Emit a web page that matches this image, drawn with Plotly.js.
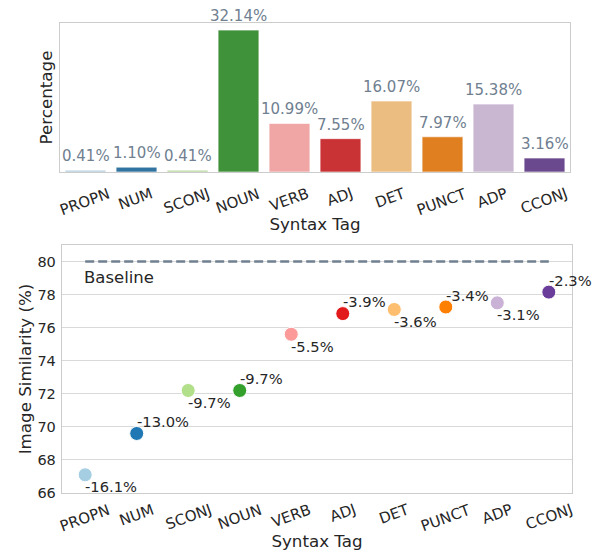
<!DOCTYPE html>
<html><head><meta charset="utf-8">
<script src="https://cdn.plot.ly/plotly-3.0.1.min.js"></script>
<style>html,body{margin:0;padding:0;background:#fff}</style>
</head><body><div id="chart" style="width:597px;height:554px"></div>
<script>
const tags = ['PROPN','NUM','SCONJ','NOUN','VERB','ADJ','DET','PUNCT','ADP','CCONJ'];
const percentages = [0.41, 1.10, 0.41, 32.14, 10.99, 7.55, 16.07, 7.97, 15.38, 3.16];
const similarity = [67.1, 69.6, 72.2, 72.2, 75.6, 76.85, 77.1, 77.25, 77.5, 78.15];
const dropLabels = ['-16.1%','-13.0%','-9.7%','-9.7%','-5.5%','-3.9%','-3.6%','-3.4%','-3.1%','-2.3%'];
const baseline = 80;
const yTicks = [66, 68, 70, 72, 74, 76, 78, 80];

const barColors = ['#aeccdb','#3274a1','#b3d495','#40923a','#efa6a5','#ca3335','#ebbd81','#df7f20','#c9b7d2','#6a498e'];
const pointColors = ['#a6cee3','#1f78b4','#b2df8a','#33a02c','#fb9a99','#e31a1c','#fdbf6f','#ff7f00','#cab2d6','#6a3d9a'];

const FONT = '"DejaVu Sans", sans-serif';
const DARK = '#262626';
const EDGE = '#cccccc';

const traces = [
  {
    type: 'bar', x: tags, y: percentages, xaxis: 'x', yaxis: 'y',
    marker: {color: barColors, line: {color: 'rgba(255,255,255,0.6)', width: 1}},
    width: 0.8, hoverinfo: 'skip', showlegend: false
  },
  {
    type: 'scatter', mode: 'lines', x: [tags[0], tags[tags.length - 1]], y: [baseline, baseline],
    xaxis: 'x2', yaxis: 'y2', line: {color: '#708090', width: 2.5, dash: '9px,4px'},
    hoverinfo: 'skip', showlegend: false
  },
  {
    type: 'scatter', mode: 'markers', x: tags, y: similarity, xaxis: 'x2', yaxis: 'y2',
    marker: {color: pointColors, size: 14, line: {color: '#ffffff', width: 1}},
    cliponaxis: false, hoverinfo: 'skip', showlegend: false
  }
];

const annotations = [];
tags.forEach((t, i) => {
  annotations.push({
    xref: 'x', yref: 'y', x: t, y: percentages[i], text: percentages[i].toFixed(2) + '%',
    showarrow: false, xanchor: 'center', yanchor: 'bottom', yshift: 3,
    font: {family: FONT, size: 15, color: '#708090'}
  });
  annotations.push({
    xref: 'x', yref: 'y domain', x: t, y: 0, text: t, textangle: -20,
    showarrow: false, xanchor: 'center', yanchor: 'top', yshift: -10, xshift: -1,
    font: {family: FONT, size: 15, color: DARK}
  });
  annotations.push({
    xref: 'x2', yref: 'y2 domain', x: t, y: 0, text: t, textangle: -20,
    showarrow: false, xanchor: 'center', yanchor: 'top', yshift: -5, xshift: 0,
    font: {family: FONT, size: 15, color: DARK}
  });
  annotations.push({
    xref: 'x2', yref: 'y2', x: t, y: similarity[i], text: dropLabels[i],
    showarrow: false, xanchor: 'left', yanchor: 'middle', xshift: -2,
    yshift: (i % 2 === 0) ? -12 : 12,
    font: {family: FONT, size: 14.7, color: DARK}
  });
});
annotations.push({
  xref: 'x2', yref: 'y2', x: tags[0], y: baseline, text: 'Baseline',
  showarrow: false, xanchor: 'left', yanchor: 'middle', xshift: -3, yshift: -16,
  font: {family: FONT, size: 16.5, color: DARK}
});

const layout = {
  width: 597, height: 554,
  margin: {l: 0, r: 0, t: 0, b: 0},
  paper_bgcolor: '#ffffff', plot_bgcolor: '#ffffff',
  font: {family: FONT, size: 14, color: DARK},
  showlegend: false,
  xaxis: {
    domain: [60/597, 570/597], anchor: 'y', type: 'category', categoryarray: tags,
    range: [-0.5, 9.5], showticklabels: false, ticks: '', showgrid: false, zeroline: false,
    showline: true, mirror: true, linecolor: EDGE, linewidth: 1.25,
    title: {text: 'Syntax Tag', font: {family: FONT, size: 16.7, color: DARK}, standoff: 46}
  },
  yaxis: {
    domain: [1 - 172/554, 1 - 23/554], anchor: 'x', range: [0, 33.75],
    showticklabels: false, ticks: '', showgrid: false, zeroline: false,
    showline: true, mirror: true, linecolor: EDGE, linewidth: 1.25,
    title: {text: 'Percentage', font: {family: FONT, size: 16.7, color: DARK}, standoff: 2}
  },
  xaxis2: {
    domain: [62/597, 572/597], anchor: 'y2', type: 'category', categoryarray: tags,
    range: [-0.45, 9.45], showticklabels: false, ticks: '', showgrid: false, zeroline: false,
    showline: true, mirror: true, linecolor: EDGE, linewidth: 1.25,
    title: {text: 'Syntax Tag', font: {family: FONT, size: 16.7, color: DARK}, standoff: 42}
  },
  yaxis2: {
    domain: [1 - 493/554, 1 - 245/554], anchor: 'x2', range: [66, 81],
    tickvals: yTicks, ticktext: yTicks.map(String), ticks: '', ticklabelstandoff: 2,
    tickfont: {family: FONT, size: 14.5, color: DARK},
    showgrid: true, gridcolor: '#d9d9d9', gridwidth: 1, zeroline: false,
    showline: true, mirror: true, linecolor: EDGE, linewidth: 1.25,
    title: {text: 'Image Similarity (%)', font: {family: FONT, size: 16.7, color: DARK}, standoff: 1}
  },
  annotations: annotations
};

Plotly.newPlot('chart', traces, layout, {displayModeBar: false, staticPlot: true});
</script>
</body></html>
